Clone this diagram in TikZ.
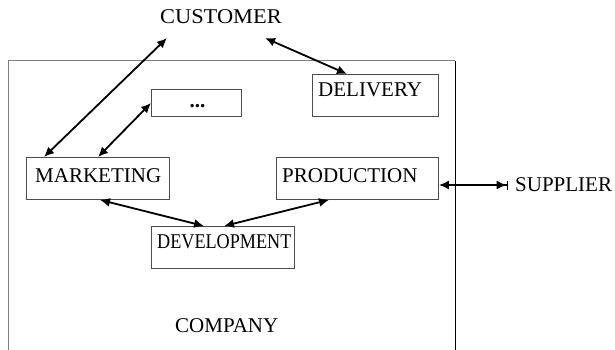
\documentclass[tikz,border=0pt]{standalone}
\usepackage{fontspec}
\setmainfont{Liberation Serif}
\usetikzlibrary{arrows.meta,calc}
\begin{document}
\begin{tikzpicture}[x=1pt,y=-1pt,
  box/.style={draw=black!70, line width=0.9pt, inner sep=0pt, anchor=north west},
  lbl/.style={font=\fontsize{21}{25}\selectfont, inner sep=0pt, anchor=base west},
  tip/.tip={Latex[length=10pt,width=9pt]},
  link/.style={line width=1.8pt, {tip}-{tip}}]
\useasboundingbox (0,0) rectangle (615,350);

% company frame
\node[inner sep=0pt, anchor=north west, minimum width=447pt, minimum height=289pt] (comp) at (8,61) {};
\draw[black!50, line width=1pt] (comp.south west) -- (comp.north west) -- (comp.north east);
\draw[black!50, line width=0.8pt] (comp.south west) -- (comp.south east);
\draw[black, line width=1pt] (comp.north east) -- (comp.south east);
\node[lbl] (comptxt) at (175,332) {COMPANY};

% outside parties
\node[lbl] (cust) at (160,24) {\scalebox{1.066}[1]{CUSTOMER}};
\node[lbl] (sup) at (515,191) {SUPPLIER};

% departments
\node[box, minimum width=143pt, minimum height=42pt] (mkt) at (26,157) {};
\node[lbl] (mkttxt) at ($(mkt.north west)+(9,25)$) {MARKETING};

\node[box, minimum width=162pt, minimum height=42pt] (prod) at (276,157) {};
\node[lbl] (prodtxt) at ($(prod.north west)+(6,25)$) {PRODUCTION};

\node[box, minimum width=126pt, minimum height=42pt] (deliv) at (312,74) {};
\node[lbl] (delivtxt) at ($(deliv.north west)+(6,23)$) {DELIVERY};

\node[box, minimum width=90pt, minimum height=27pt] (other) at (151,89) {};
\node[font=\fontsize{21}{25}\selectfont\bfseries, inner sep=0pt, anchor=base] (othertxt) at ($(other.north)+(1,18)$) {...};

\node[box, minimum width=143pt, minimum height=42pt] (dev) at (151,226) {};
\node[lbl] (devtxt) at ($(dev.north west)+(6,22)$) {\scalebox{0.865}[1]{DEVELOPMENT}};

% connector end points
\coordinate (c1) at ($(cust.base west)+(7,14)$);
\coordinate (c2) at ($(cust.base west)+(105,14)$);
\coordinate (s1) at ($(sup.base west)+(-7,-6)$);

\draw[link] (c1) -- ($(mkt.north west)+(18,0)$);
\draw[link] (c2) -- ($(deliv.north west)+(35,0)$);
\draw[link] ($(other.north west)+(0,14)$) -- ($(mkt.north west)+(72,0)$);
\draw[link] ($(mkt.south west)+(74,0)$) -- ($(dev.north west)+(53,0)$);
\draw[link] ($(dev.north west)+(73,0)$) -- ($(prod.south west)+(53,0)$);
\draw[line width=1.8pt, {tip}-{tip[]Bar[width=9pt,line width=1.4pt]}] ($(prod.north east)+(0,28)$) -- (s1);
\end{tikzpicture}
\end{document}
